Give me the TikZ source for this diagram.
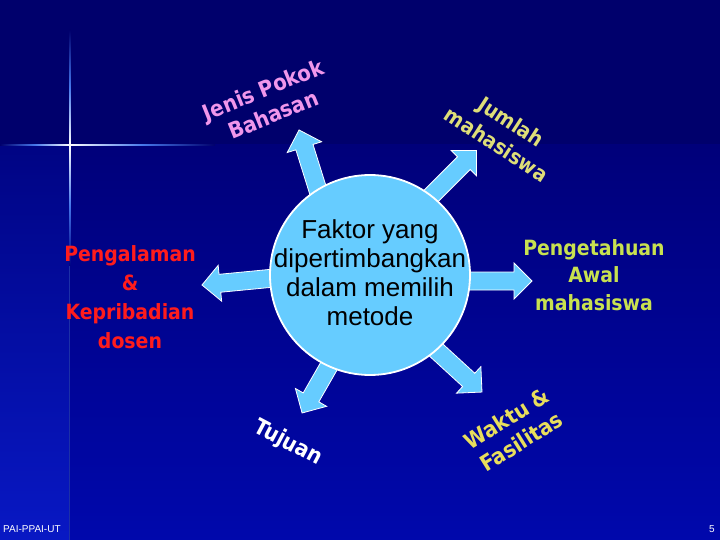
\documentclass[tikz,border=0pt]{standalone}
\usepackage{fontspec}
\setmainfont{Liberation Sans}
\newfontfamily\comicf{DejaVu Sans Condensed Bold}
\definecolor{navytop}{RGB}{0,0,108}
\definecolor{lowtop}{RGB}{0,0,122}
\definecolor{lowbot}{RGB}{0,8,172}
\definecolor{striptop}{RGB}{0,4,132}
\definecolor{stripbot}{RGB}{8,24,196}
\definecolor{starblue}{RGB}{70,120,235}
\definecolor{skyfill}{RGB}{102,204,255}
\definecolor{pinktxt}{RGB}{240,150,235}
\definecolor{khakitxt}{RGB}{222,222,120}
\definecolor{limetxt}{RGB}{200,225,80}
\definecolor{yeltxt}{RGB}{232,222,92}
\definecolor{redtxt}{RGB}{255,28,28}
\tikzset{
  arrowstyle/.style={fill=skyfill, draw=white, line width=0.8pt, line join=miter},
  comictext/.style={font=\comicf\fontsize{21}{27.5}\selectfont, align=center, inner sep=0pt},
}
\newcommand\blockarr[3]{%
  \begin{scope}[shift={(#1)},rotate=#2]
    \filldraw[arrowstyle] (0,-9) -- ({#3-18},-9) -- ({#3-18},-18) -- (#3,0)
      -- ({#3-18},18) -- ({#3-18},9) -- (0,9) -- cycle;
  \end{scope}}
\begin{document}
\begin{tikzpicture}[x=1pt,y=-1pt]
\useasboundingbox (0,0) rectangle (720,540);
% background
\fill[navytop] (0,0) rectangle (720,145);
\shade[top color=lowtop, bottom color=lowbot] (0,145) rectangle (720,540);
\shade[top color=striptop, bottom color=stripbot] (0,145) rectangle (69,540);
\fill[starblue!40!lowtop] (69,145) rectangle (70.2,540);
% sparkle
\shade[top color=navytop, bottom color=white, middle color=starblue] (69.1,30) rectangle (70.9,145);
\shade[top color=white, bottom color=striptop, middle color=starblue] (69.1,145) rectangle (70.9,265);
\shade[left color=navytop, right color=white, middle color=starblue] (0,144.1) rectangle (70,145.9);
\shade[left color=white, right color=navytop, middle color=starblue] (70,144.1) rectangle (215,145.9);
% arrows
\blockarr{321,200}{107.4}{73.4}
\blockarr{420,207}{45}{80}
\blockarr{455,281}{0}{77}
\blockarr{285,277}{185.5}{83.4}
\blockarr{337,352}{240.2}{70.3}
\blockarr{423,338}{-42.5}{80}
% central circle
\node[circle, fill=skyfill, draw=white, line width=1.8pt, minimum size=200pt, inner sep=0pt] (c) at (370,275) {};
\node[font=\fontsize{26}{29}\selectfont, align=center, inner sep=0pt] (ctext) at (370,273)
  {Faktor yang\\dipertimbangkan\\dalam memilih\\metode};
% surrounding labels
\node[comictext, text=pinktxt, rotate=22, font=\comicf\fontsize{22}{27}\selectfont] (jenis) at (268,102) {Jenis Pokok\\Bahasan};
\node[comictext, text=khakitxt, rotate=-33, font=\comicf\fontsize{21}{27}\selectfont] (jumlah) at (504,133) {Jumlah\\mahasiswa};
\node[comictext, text=limetxt] (peng) at (594,275) {Pengetahuan\\Awal\\mahasiswa};
\node[comictext, text=redtxt, font=\comicf\fontsize{21}{29}\selectfont] (pengal) at (130,297) {Pengalaman\\\&\\Kepribadian\\dosen};
\node[comictext, text=white, rotate=-28, font=\comicf\fontsize{22}{27}\selectfont] (tujuan) at (288,443) {Tujuan};
\node[comictext, text=yeltxt, rotate=32, font=\comicf\fontsize{22}{27}\selectfont] (waktu) at (514,430) {Waktu \&\\Fasilitas};
% footer
\node[font=\fontsize{10}{12}\selectfont, text=white, anchor=base west, inner sep=0pt] (foot) at (3,532) {PAI-PPAI-UT};
\node[font=\fontsize{10}{12}\selectfont, text=white, anchor=base east, inner sep=0pt] (pnum) at (715,532) {5};
\end{tikzpicture}
\end{document}
